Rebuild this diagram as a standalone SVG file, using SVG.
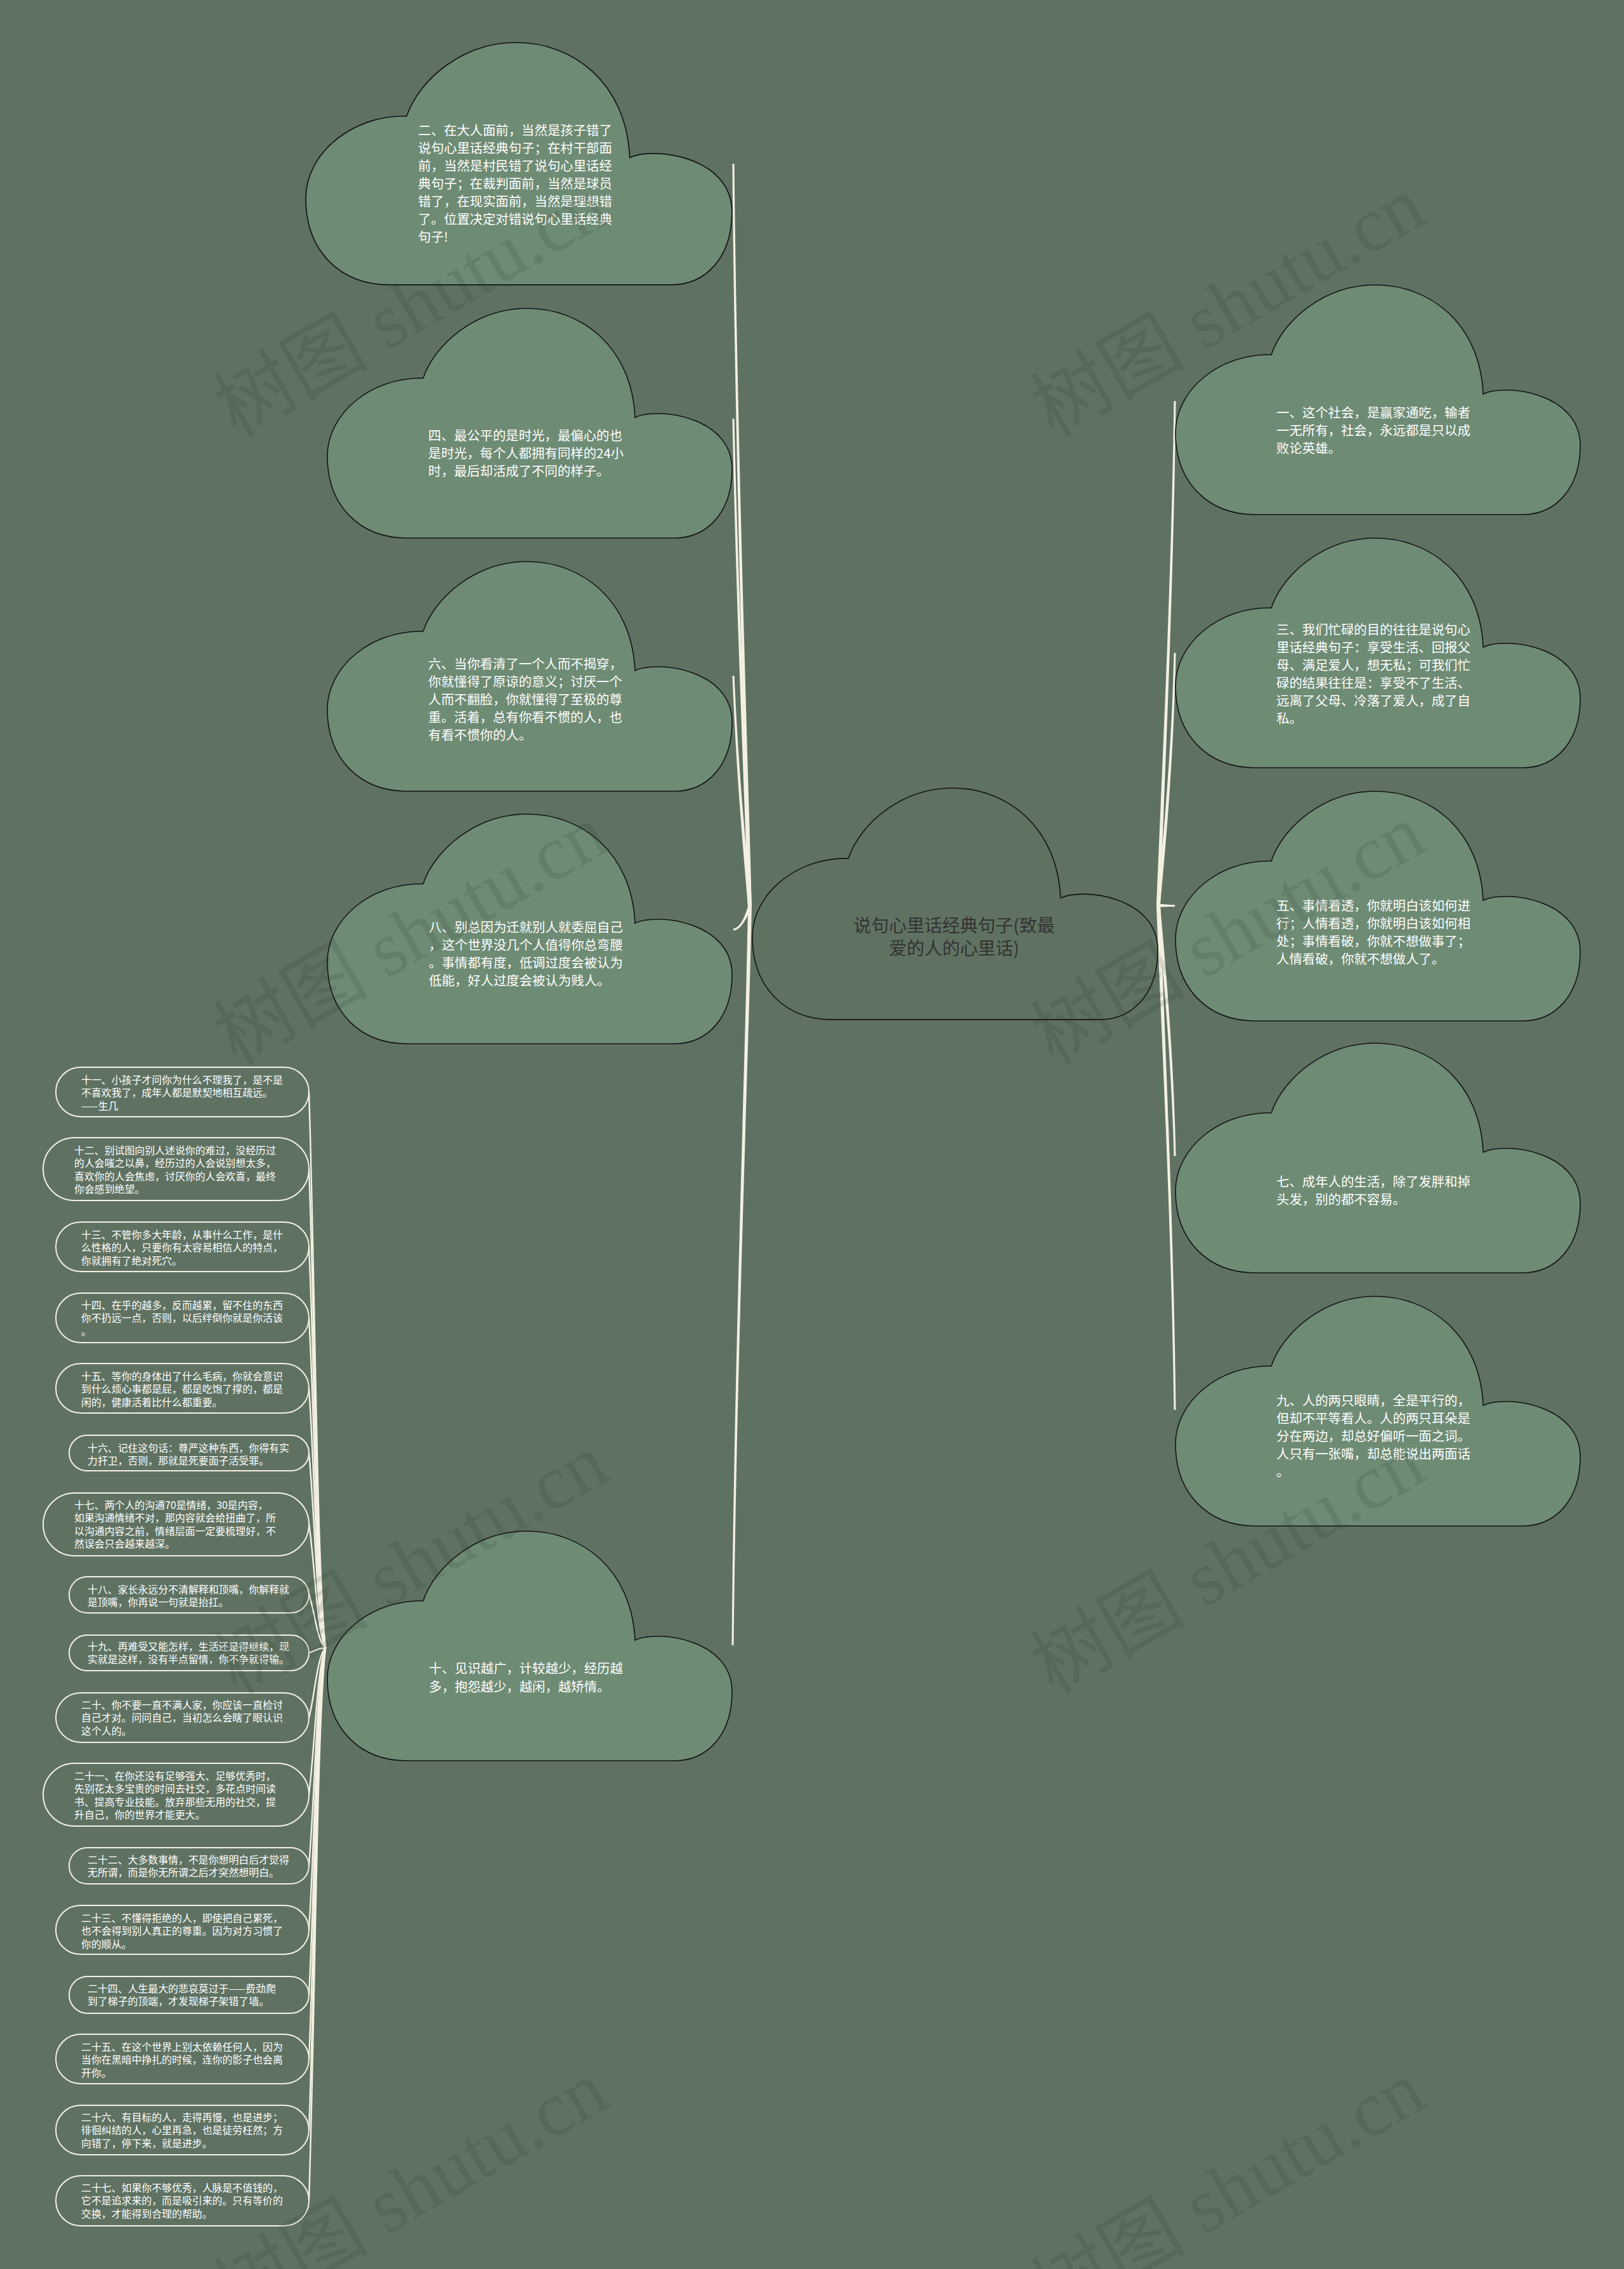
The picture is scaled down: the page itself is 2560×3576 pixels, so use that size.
<svg xmlns="http://www.w3.org/2000/svg" xmlns:xlink="http://www.w3.org/1999/xlink" width="2560" height="3576" viewBox="0 0 2560 3576">
<style>
.bg{fill:#5f7262}
.cloud{fill:#6e8b74;stroke:#141414;stroke-width:1.6}
.ccloud{fill:#5f7262;stroke:#141414;stroke-width:1.6}
.t{font-family:"Noto Sans CJK SC","Noto Sans",sans-serif;fill:#ffffff;font-size:20.4px}
.lt{font-family:"Noto Sans CJK SC","Noto Sans",sans-serif;fill:#ffffff;font-size:15.9px}
.ct{font-family:"Noto Sans CJK SC","Noto Sans",sans-serif;fill:#333333;font-size:28px;text-anchor:middle}
.pill{fill:none;stroke:#f3f0e2;stroke-width:2}
.conn{fill:#f3f0e2}
.lconn{fill:none;stroke:#f3f0e2;stroke-width:2.4;stroke-linecap:round}
.wm{font-family:"Liberation Serif","Noto Sans CJK SC",serif;font-size:122px;fill:#1e2e20;fill-opacity:0.13}
</style>
<defs>
<path id="cloud" d="M151,110 C170,55 235,0 315,0 C400,0 480,60 485,172 C520,155 638,170 638,253 C638,320 600,362 547,362 L126,362 C50,362 0,310 0,233 C0,165 70,108 151,110 Z"/>
</defs>
<rect class="bg" x="0" y="0" width="2560" height="3576"/>

<g id="connectors">
<path class="conn" d="M1154.5,258 C1158,700 1175.5,1250 1179,1428 L1185,1428 C1180.5,1250 1162,700 1157.5,258 Z"/>
<path class="conn" d="M1154.5,660 C1160,950 1175.5,1300 1179,1428 L1185,1428 C1180.5,1300 1164,950 1157.5,660 Z"/>
<path class="conn" d="M1154.5,1065 C1162,1250 1175.5,1380 1179,1428 L1185,1428 C1180.5,1380 1166,1250 1157.5,1065 Z"/>
<path class="conn" d="M1156,1463.5 C1168,1462 1174.5,1443 1179.5,1427 L1184.5,1429 C1177.5,1447 1168,1466 1156,1466.5 Z"/>
<path class="conn" d="M1153.5,2593 C1157,2150 1175.5,1650 1179,1428 L1185,1428 C1180.5,1650 1161,2150 1156.5,2593 Z"/>
<path class="conn" d="M1853.5,632 C1850,950 1832.5,1300 1829,1427 L1823,1427 C1827.5,1300 1846,950 1850.5,632 Z"/>
<path class="conn" d="M1853.5,1029 C1850,1220 1832.5,1380 1829,1427 L1823,1427 C1827.5,1380 1846,1220 1850.5,1029 Z"/>
<path class="conn" d="M1823,1424 C1835,1425.5 1845,1426 1852,1426 L1852,1429 C1845,1429 1835,1429 1823,1430 Z"/>
<path class="conn" d="M1853.5,1822 C1850,1640 1832.5,1475 1829,1427 L1823,1427 C1827.5,1475 1846,1640 1850.5,1822 Z"/>
<path class="conn" d="M1853.5,2222 C1850,1900 1832.5,1560 1829,1427 L1823,1427 C1827.5,1560 1846,1900 1850.5,2222 Z"/>
<path class="lconn" d="M487,1721 C497,2028 499,2466 513,2597"/>
<path class="lconn" d="M487,1842 C497,2106 499,2484 513,2597"/>
<path class="lconn" d="M487,1965 C497,2186 499,2502 513,2597"/>
<path class="lconn" d="M487,2077 C497,2259 499,2519 513,2597"/>
<path class="lconn" d="M487,2188 C497,2331 499,2536 513,2597"/>
<path class="lconn" d="M487,2290 C497,2397 499,2551 513,2597"/>
<path class="lconn" d="M487,2402 C497,2470 499,2568 513,2597"/>
<path class="lconn" d="M487,2513 C497,2542 499,2584 513,2597"/>
<path class="lconn" d="M487,2605 C497,2602 499,2598 513,2597"/>
<path class="lconn" d="M487,2707 C497,2669 499,2614 513,2597"/>
<path class="lconn" d="M487,2828 C497,2747 499,2632 513,2597"/>
<path class="lconn" d="M487,2940 C497,2820 499,2648 513,2597"/>
<path class="lconn" d="M487,3041 C497,2886 499,2664 513,2597"/>
<path class="lconn" d="M487,3144 C497,2953 499,2679 513,2597"/>
<path class="lconn" d="M487,3245 C497,3018 499,2694 513,2597"/>
<path class="lconn" d="M487,3357 C497,3091 499,2711 513,2597"/>
<path class="lconn" d="M487,3468 C497,3163 499,2728 513,2597"/>
</g>

<g id="node-center">
<use xlink:href="#cloud" href="#cloud" class="ccloud" transform="translate(1186,1242) scale(1.0016,1.008)"/>
<text class="ct" x="1504" y="1469">说句心里话经典句子(致最<tspan x="1504" dy="36">爱的人的心里话)</tspan></text>
</g>

<g id="node-2">
<use xlink:href="#cloud" href="#cloud" class="cloud" transform="translate(482,67) scale(1.053,1.055)"/>
<text class="t" x="659" y="213">二、在大人面前，当然是孩子错了<tspan x="659" dy="28">说句心里话经典句子；在村干部面</tspan><tspan x="659" dy="28">前，当然是村民错了说句心里话经</tspan><tspan x="659" dy="28">典句子；在裁判面前，当然是球员</tspan><tspan x="659" dy="28">错了，在现实面前，当然是理想错</tspan><tspan x="659" dy="28">了。位置决定对错说句心里话经典</tspan><tspan x="659" dy="28">句子!</tspan></text>
</g>

<g id="node-4">
<use xlink:href="#cloud" href="#cloud" class="cloud" transform="translate(516,486)"/>
<text class="t" x="675" y="694">四、最公平的是时光，最偏心的也<tspan x="675" dy="28">是时光，每个人都拥有同样的24小</tspan><tspan x="675" dy="28">时，最后却活成了不同的样子。</tspan></text>
</g>

<g id="node-6">
<use xlink:href="#cloud" href="#cloud" class="cloud" transform="translate(516,885)"/>
<text class="t" x="675" y="1054">六、当你看清了一个人而不揭穿，<tspan x="675" dy="28">你就懂得了原谅的意义；讨厌一个</tspan><tspan x="675" dy="28">人而不翻脸，你就懂得了至极的尊</tspan><tspan x="675" dy="28">重。活着，总有你看不惯的人，也</tspan><tspan x="675" dy="28">有看不惯你的人。</tspan></text>
</g>

<g id="node-8">
<use xlink:href="#cloud" href="#cloud" class="cloud" transform="translate(516,1283)"/>
<text class="t" x="676" y="1469">八、别总因为迁就别人就委屈自己<tspan x="676" dy="28">，这个世界没几个人值得你总弯腰</tspan><tspan x="676" dy="28">。事情都有度，低调过度会被认为</tspan><tspan x="676" dy="28">低能，好人过度会被认为贱人。</tspan></text>
</g>

<g id="node-10">
<use xlink:href="#cloud" href="#cloud" class="cloud" transform="translate(516,2413)"/>
<text class="t" x="676" y="2637">十、见识越广，计较越少，经历越<tspan x="676" dy="29">多，抱怨越少，越闲，越矫情。</tspan></text>
</g>

<g id="node-1">
<use xlink:href="#cloud" href="#cloud" class="cloud" transform="translate(1853,449)"/>
<text class="t" x="2012" y="658">一、这个社会，是赢家通吃，输者<tspan x="2012" dy="28">一无所有，社会，永远都是只以成</tspan><tspan x="2012" dy="28">败论英雄。</tspan></text>
</g>

<g id="node-3">
<use xlink:href="#cloud" href="#cloud" class="cloud" transform="translate(1853,848)"/>
<text class="t" x="2012" y="1000">三、我们忙碌的目的往往是说句心<tspan x="2012" dy="28">里话经典句子：享受生活、回报父</tspan><tspan x="2012" dy="28">母、满足爱人，想无私；可我们忙</tspan><tspan x="2012" dy="28">碌的结果往往是：享受不了生活、</tspan><tspan x="2012" dy="28">远离了父母、冷落了爱人，成了自</tspan><tspan x="2012" dy="28">私。</tspan></text>
</g>

<g id="node-5">
<use xlink:href="#cloud" href="#cloud" class="cloud" transform="translate(1853,1247)"/>
<text class="t" x="2012" y="1435">五、事情看透，你就明白该如何进<tspan x="2012" dy="28">行；人情看透，你就明白该如何相</tspan><tspan x="2012" dy="28">处；事情看破，你就不想做事了；</tspan><tspan x="2012" dy="28">人情看破，你就不想做人了。</tspan></text>
</g>

<g id="node-7">
<use xlink:href="#cloud" href="#cloud" class="cloud" transform="translate(1853,1644)"/>
<text class="t" x="2012" y="1870">七、成年人的生活，除了发胖和掉<tspan x="2012" dy="28">头发，别的都不容易。</tspan></text>
</g>

<g id="node-9">
<use xlink:href="#cloud" href="#cloud" class="cloud" transform="translate(1853,2043)"/>
<text class="t" x="2012" y="2215">九、人的两只眼睛，全是平行的，<tspan x="2012" dy="28">但却不平等看人。人的两只耳朵是</tspan><tspan x="2012" dy="28">分在两边，却总好偏听一面之词。</tspan><tspan x="2012" dy="28">人只有一张嘴，却总能说出两面话</tspan><tspan x="2012" dy="28">。</tspan></text>
</g>

<g id="node-11"><rect class="pill" x="88" y="1682" width="399" height="78" rx="39"/>
<text class="lt" x="128" y="1708">十一、小孩子才问你为什么不理我了，是不是<tspan x="128" dy="20.3">不喜欢我了，成年人都是默契地相互疏远。</tspan><tspan x="128" dy="20.3">——生几</tspan></text></g>
<g id="node-12"><rect class="pill" x="68" y="1793" width="419" height="99" rx="49.5"/>
<text class="lt" x="117" y="1819">十二、别试图向别人述说你的难过，没经历过<tspan x="117" dy="20.3">的人会嗤之以鼻，经历过的人会说别想太多，</tspan><tspan x="117" dy="20.3">喜欢你的人会焦虑，讨厌你的人会欢喜，最终</tspan><tspan x="117" dy="20.3">你会感到绝望。</tspan></text></g>
<g id="node-13"><rect class="pill" x="88" y="1926" width="399" height="78" rx="39"/>
<text class="lt" x="128" y="1952">十三、不管你多大年龄，从事什么工作，是什<tspan x="128" dy="20.3">么性格的人，只要你有太容易相信人的特点，</tspan><tspan x="128" dy="20.3">你就拥有了绝对死穴。</tspan></text></g>
<g id="node-14"><rect class="pill" x="88" y="2038" width="399" height="78" rx="39"/>
<text class="lt" x="128" y="2063">十四、在乎的越多，反而越累，留不住的东西<tspan x="128" dy="20.3">你不扔远一点，否则，以后绊倒你就是你活该</tspan><tspan x="128" dy="20.3">。</tspan></text></g>
<g id="node-15"><rect class="pill" x="88" y="2149" width="399" height="78" rx="39"/>
<text class="lt" x="128" y="2175">十五、等你的身体出了什么毛病，你就会意识<tspan x="128" dy="20.3">到什么烦心事都是屁，都是吃饱了撑的，都是</tspan><tspan x="128" dy="20.3">闲的，健康活着比什么都重要。</tspan></text></g>
<g id="node-16"><rect class="pill" x="109" y="2262" width="378" height="56" rx="28"/>
<text class="lt" x="138" y="2288">十六、记住这句话：尊严这种东西，你得有实<tspan x="138" dy="20.3">力扞卫，否则，那就是死要面子活受罪。</tspan></text></g>
<g id="node-17"><rect class="pill" x="68" y="2353" width="419" height="99" rx="49.5"/>
<text class="lt" x="117" y="2378">十七、两个人的沟通70是情绪，30是内容，<tspan x="117" dy="20.3">如果沟通情绪不对，那内容就会给扭曲了，所</tspan><tspan x="117" dy="20.3">以沟通内容之前，情绪层面一定要梳理好，不</tspan><tspan x="117" dy="20.3">然误会只会越来越深。</tspan></text></g>
<g id="node-18"><rect class="pill" x="109" y="2485" width="378" height="57" rx="28.5"/>
<text class="lt" x="138" y="2511">十八、家长永远分不清解释和顶嘴，你解释就<tspan x="138" dy="20.3">是顶嘴，你再说一句就是抬扛。</tspan></text></g>
<g id="node-19"><rect class="pill" x="109" y="2577" width="378" height="56" rx="28"/>
<text class="lt" x="138" y="2601">十九、再难受又能怎样，生活还是得继续，现<tspan x="138" dy="20.3">实就是这样，没有半点留情，你不争就得输。</tspan></text></g>
<g id="node-20"><rect class="pill" x="88" y="2668" width="399" height="78" rx="39"/>
<text class="lt" x="128" y="2693">二十、你不要一直不满人家，你应该一直检讨<tspan x="128" dy="20.3">自己才对。问问自己，当初怎么会瞎了眼认识</tspan><tspan x="128" dy="20.3">这个人的。</tspan></text></g>
<g id="node-21"><rect class="pill" x="68" y="2779" width="419" height="99" rx="49.5"/>
<text class="lt" x="117" y="2805">二十一、在你还没有足够强大、足够优秀时，<tspan x="117" dy="20.3">先别花太多宝贵的时间去社交，多花点时间读</tspan><tspan x="117" dy="20.3">书、提高专业技能。放弃那些无用的社交，提</tspan><tspan x="117" dy="20.3">升自己，你的世界才能更大。</tspan></text></g>
<g id="node-22"><rect class="pill" x="109" y="2912" width="378" height="57" rx="28.5"/>
<text class="lt" x="138" y="2937">二十二、大多数事情，不是你想明白后才觉得<tspan x="138" dy="20.3">无所谓，而是你无所谓之后才突然想明白。</tspan></text></g>
<g id="node-23"><rect class="pill" x="88" y="3003" width="399" height="77" rx="38.5"/>
<text class="lt" x="128" y="3029">二十三、不懂得拒绝的人，即使把自己累死，<tspan x="128" dy="20.3">也不会得到别人真正的尊重。因为对方习惯了</tspan><tspan x="128" dy="20.3">你的顺从。</tspan></text></g>
<g id="node-24"><rect class="pill" x="109" y="3115" width="378" height="58" rx="29"/>
<text class="lt" x="138" y="3140">二十四、人生最大的悲哀莫过于——费劲爬<tspan x="138" dy="20.3">到了梯子的顶端，才发现梯子架错了墙。</tspan></text></g>
<g id="node-25"><rect class="pill" x="88" y="3206" width="399" height="78" rx="39"/>
<text class="lt" x="128" y="3232">二十五、在这个世界上别太依赖任何人，因为<tspan x="128" dy="20.3">当你在黑暗中挣扎的时候，连你的影子也会离</tspan><tspan x="128" dy="20.3">开你。</tspan></text></g>
<g id="node-26"><rect class="pill" x="88" y="3318" width="399" height="78" rx="39"/>
<text class="lt" x="128" y="3343">二十六、有目标的人，走得再慢，也是进步；<tspan x="128" dy="20.3">徘徊纠结的人，心里再急，也是徒劳枉然；方</tspan><tspan x="128" dy="20.3">向错了，停下来，就是进步。</tspan></text></g>
<g id="node-27"><rect class="pill" x="88" y="3429" width="399" height="79" rx="39.5"/>
<text class="lt" x="128" y="3454">二十七、如果你不够优秀，人脉是不值钱的，<tspan x="128" dy="20.3">它不是追求来的，而是吸引来的。只有等价的</tspan><tspan x="128" dy="20.3">交换，才能得到合理的帮助。</tspan></text></g>

<g id="watermarks">
<text class="wm" transform="translate(372,690) rotate(-30)">树图 shutu.cn</text>
<text class="wm" transform="translate(1660,690) rotate(-30)">树图 shutu.cn</text>
<text class="wm" transform="translate(372,1680) rotate(-30)">树图 shutu.cn</text>
<text class="wm" transform="translate(1660,1680) rotate(-30)">树图 shutu.cn</text>
<text class="wm" transform="translate(372,2672) rotate(-30)">树图 shutu.cn</text>
<text class="wm" transform="translate(1660,2672) rotate(-30)">树图 shutu.cn</text>
<text class="wm" transform="translate(372,3660) rotate(-30)">树图 shutu.cn</text>
<text class="wm" transform="translate(1660,3660) rotate(-30)">树图 shutu.cn</text>
</g>
</svg>
